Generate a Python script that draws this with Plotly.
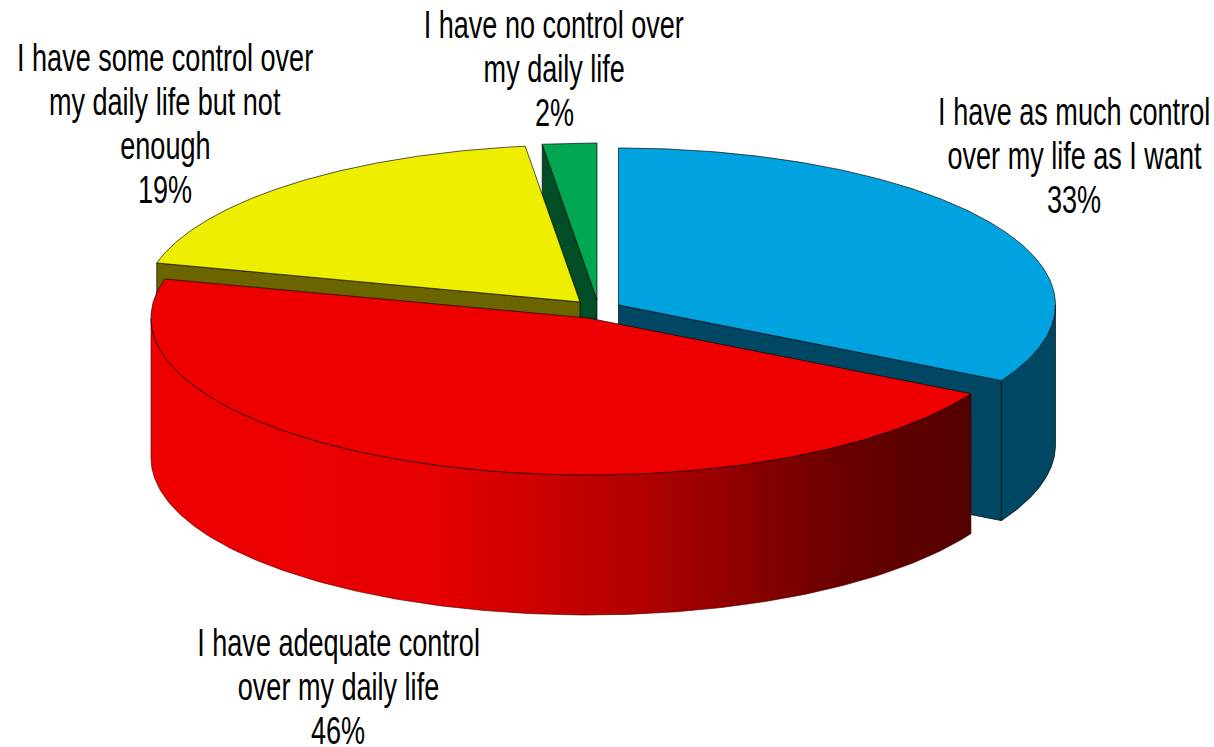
import numpy as np
import plotly.graph_objects as go

# Data
labels = ["I have as much control<br>over my life as I want",
          "I have adequate control<br>over my daily life",
          "I have some control over<br>my daily life but not<br>enough",
          "I have no control over<br>my daily life"]
values = [33, 46, 19, 2]
shown_percent = ["33%", "46%", "19%", "2%"]

# Styles
top_colors = ["#00A2E0", "#EE0000", "#EEEE00", "#00A650"]
side_colors = ["#004763", "#600000", "#6B6500", "#004D26"]
red_gradient = [[0, "#EE0000"], [0.35, "#E60000"], [0.6, "#B00000"],
                [0.85, "#680000"], [1, "#520000"]]

# Projection of the tilted pie, in pixels
RX, RY, DEPTH = 437, 157, 140
centers = [(618.5, 305), (588, 318), (580, 302), (597, 300)]
label_x = [1074, 338, 165, 554]
label_y0 = [112, 643, 58, 25]
LINE_STEP = 44
FONT = dict(family="Liberation Sans, Arial", size=38, color="black")
EDGE = dict(color="rgba(0,0,0,0.65)", width=1)

cum = np.cumsum([0] + values) / sum(values) * 2 * np.pi
fig = go.Figure()


def pt(c, ang, dz=0):
    ang = np.asarray(ang, dtype=float)
    return c[0] + RX * np.sin(ang), c[1] - RY * np.cos(ang) + dz


def poly(xs, ys, color, name, **kw):
    fig.add_trace(go.Scatter(x=list(xs), y=list(ys), mode="lines", fill="toself",
                             fillcolor=color, line=kw.pop("line", EDGE), name=name,
                             showlegend=False, hoverinfo="name", **kw))


def cut_face(i, ang):
    c = centers[i]
    x0, y0 = pt(c, ang)
    poly([c[0], x0, x0, c[0], c[0]], [c[1], y0, y0 + DEPTH, c[1] + DEPTH, c[1]],
         side_colors[i], labels[i])


def rim(i, a0, a1, **kw):
    c = centers[i]
    t = np.linspace(a0, a1, 80)
    xt, yt = pt(c, t)
    xb, yb = pt(c, t[::-1], DEPTH)
    poly(np.r_[xt, xb, xt[0]], np.r_[yt, yb, yt[0]], side_colors[i], labels[i], **kw)


def top(i):
    c = centers[i]
    t = np.linspace(cum[i], cum[i + 1], 200)
    xt, yt = pt(c, t)
    poly(np.r_[c[0], xt, c[0]], np.r_[c[1], yt, c[1]], top_colors[i], labels[i])


# Back to front: green, yellow, blue, red
cut_face(3, cum[3])
top(3)
cut_face(2, cum[2])
top(2)
cut_face(0, cum[1])
rim(0, np.pi / 2, cum[1])
top(0)
c = centers[1]
t = np.linspace(cum[1], 1.5 * np.pi, 200)
xt, yt = pt(c, t)
xb, yb = pt(c, t[::-1], DEPTH)
fig.add_trace(go.Scatter(x=list(np.r_[xt, xb, xt[0]]), y=list(np.r_[yt, yb, yt[0]]),
                         mode="lines", fill="toself", line=dict(color="rgba(60,0,0,0.6)", width=1),
                         fillgradient=dict(type="horizontal", colorscale=red_gradient),
                         name=labels[1], showlegend=False, hoverinfo="name"))
top(1)

# Labels, one annotation per line so the line spacing can follow the reference
for lab, pct, lx, ly in zip(labels, shown_percent, label_x, label_y0):
    for k, line in enumerate(lab.split("<br>") + [pct]):
        fig.add_annotation(x=lx, y=ly + k * LINE_STEP, text=line, showarrow=False,
                           font=FONT, align="center", xanchor="center", yanchor="middle")

fig.update_layout(width=1214, height=747, margin=dict(l=0, r=0, t=0, b=0),
                  paper_bgcolor="white", plot_bgcolor="white",
                  xaxis=dict(range=[0, 1214], visible=False),
                  yaxis=dict(range=[747, 0], visible=False), showlegend=False)

# No page margin; the reference's lettering is condensed, so narrow the real text
post = """
document.body.style.margin = '0';
document.querySelectorAll('text.annotation-text').forEach(function (t) {
  var b = t.getBBox(), cx = b.x + b.width / 2;
  t.setAttribute('transform', 'translate(' + cx + ' 0) scale(0.712 1) translate(' + (-cx) + ' 0)');
});
"""
fig.write_html("out.html", post_script=post, config=dict(displayModeBar=False))
